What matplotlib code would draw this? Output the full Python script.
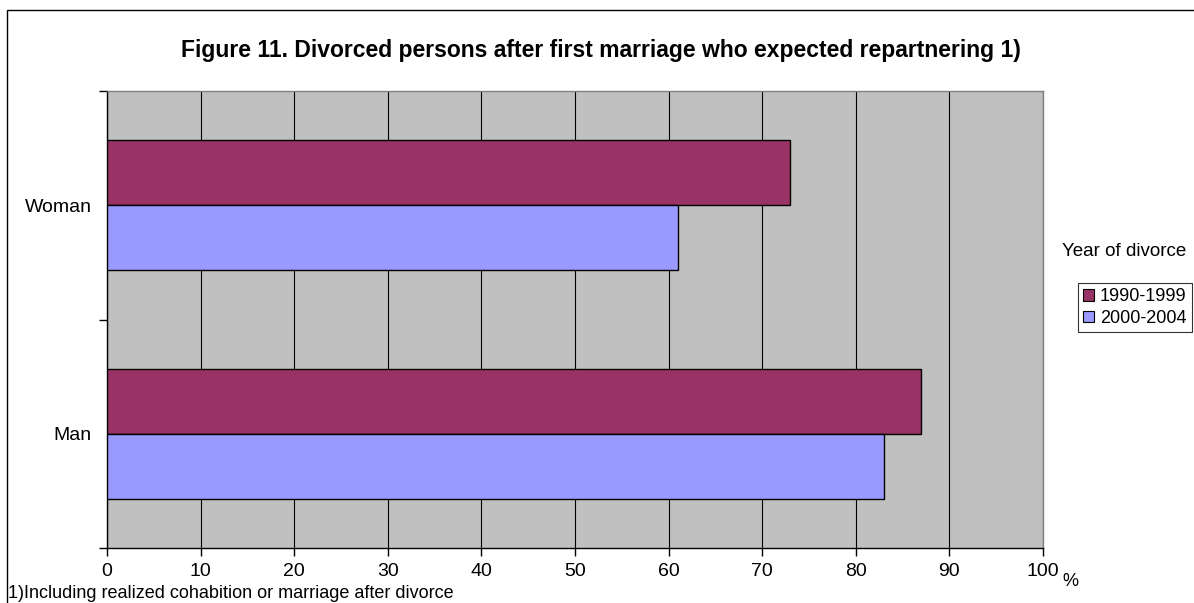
import matplotlib
matplotlib.use("Agg")
import matplotlib.pyplot as plt
from matplotlib.patches import Patch, Rectangle

plt.rcParams['font.family'] = ['Liberation Sans', 'DejaVu Sans']

# data
categories = ['Woman', 'Man']
series_labels = ['1990-1999', '2000-2004']
values_1990 = [73, 87]
values_2000 = [61, 83]
x_ticks = [0, 10, 20, 30, 40, 50, 60, 70, 80, 90, 100]

colors = ['#993366', '#9999FF']

W, H = 1194, 603
fig = plt.figure(figsize=(W / 100, H / 100), dpi=100)
fig.patch.set_facecolor('white')

def px(x0, y0, x1, y1):
    # pixel box (top-left origin) -> figure fraction rect
    return [x0 / W, 1 - y1 / H, (x1 - x0) / W, (y1 - y0) / H]

# outer chart frame
fig.patches.append(Rectangle((7 / W, -0.05), 1.1, 1 - 10 / H + 0.05,
                             transform=fig.transFigure, fill=False,
                             edgecolor='black', linewidth=1.0))

ax = fig.add_axes(px(107, 91, 1043, 548))
ax.set_facecolor('#C0C0C0')

h = 0.285
pos = list(range(len(categories)))
ax.barh([p - h / 2 for p in pos], values_1990, height=h, color=colors[0],
        edgecolor='black', linewidth=1.0, zorder=3)
ax.barh([p + h / 2 for p in pos], values_2000, height=h, color=colors[1],
        edgecolor='black', linewidth=1.0, zorder=3)

ax.set_xlim(0, 100)
ax.set_ylim(len(categories) - 0.5, -0.5)

ax.set_xticks(x_ticks)
ax.set_xticklabels([str(t) for t in x_ticks], fontsize=14)
ax.tick_params(axis='x', direction='out', length=6, width=1, pad=5)
ax.grid(axis='x', color='black', linewidth=0.8, zorder=1)
ax.set_axisbelow(True)

# category ticks on boundaries, labels centered on categories
ax.set_yticks([-0.5, 0.5, 1.5])
ax.set_yticklabels([])
ax.set_yticks(pos, minor=True)
ax.set_yticklabels(categories, minor=True, fontsize=14)
ax.tick_params(axis='y', which='major', direction='out', length=6, width=1)
ax.tick_params(axis='y', which='minor', length=0, pad=11)

for side in ['top', 'right']:
    ax.spines[side].set_color('#808080')
    ax.spines[side].set_linewidth(1.0)
for side in ['left', 'bottom']:
    ax.spines[side].set_color('black')
    ax.spines[side].set_linewidth(1.0)

fig.text(601 / W, 1 - 50 / H,
         'Figure 11. Divorced persons after first marriage who expected repartnering 1)',
         ha='center', va='center', fontsize=16.5, fontweight='bold')

fig.text(1062 / W, 1 - 582 / H, '%', ha='left', va='center', fontsize=13)
fig.text(8 / W, 1 - 593 / H, '1)Including realized cohabition or marriage after divorce',
         ha='left', va='center', fontsize=13)

fig.text(1062 / W, 1 - 252 / H, 'Year of divorce', ha='left', va='center', fontsize=13.5)

handles = [Patch(facecolor=c, edgecolor='black', linewidth=0.8) for c in colors]
leg = fig.legend(handles, series_labels, loc='upper left',
                 bbox_to_anchor=(1078 / W, 1 - 283 / H), fontsize=13,
                 frameon=True, fancybox=False, handlelength=0.6, handleheight=0.6,
                 handletextpad=0.3, borderpad=0.3, labelspacing=0.25,
                 borderaxespad=0)
leg.get_frame().set_edgecolor('black')
leg.get_frame().set_linewidth(0.8)

fig.savefig('out.png', dpi=100)
